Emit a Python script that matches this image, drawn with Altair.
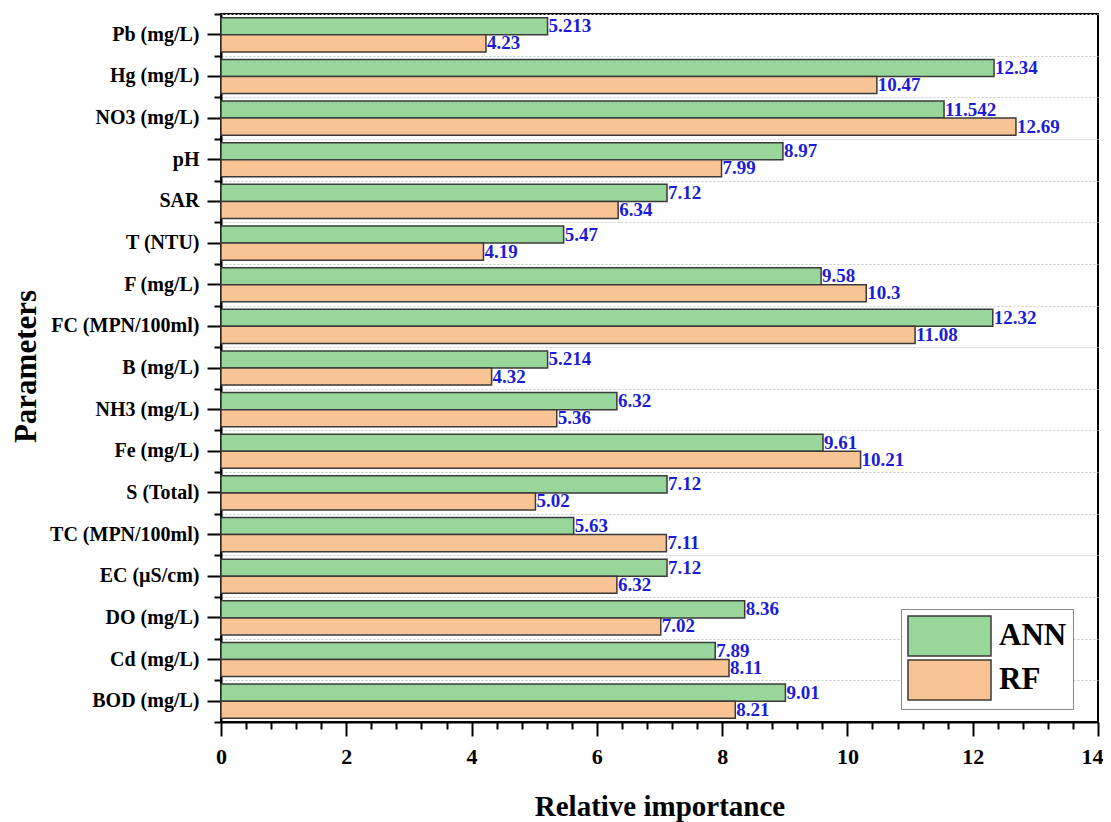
import altair as alt
import pandas as pd

params = ["Pb (mg/L)", "Hg (mg/L)", "NO3 (mg/L)", "pH", "SAR", "T (NTU)", "F (mg/L)",
          "FC (MPN/100ml)", "B (mg/L)", "NH3 (mg/L)", "Fe (mg/L)", "S (Total)",
          "TC (MPN/100ml)", "EC (µS/cm)", "DO (mg/L)", "Cd (mg/L)", "BOD (mg/L)"]
ann = [5.213, 12.34, 11.542, 8.97, 7.12, 5.47, 9.58, 12.32, 5.214, 6.32,
       9.61, 7.12, 5.63, 7.12, 8.36, 7.89, 9.01]
rf = [4.23, 10.47, 12.69, 7.99, 6.34, 4.19, 10.3, 11.08, 4.32, 5.36,
      10.21, 5.02, 7.11, 6.32, 7.02, 8.11, 8.21]
models = ["ANN", "RF"]
colors = ["#99d69b", "#f9c494"]
x_major = [0, 2, 4, 6, 8, 10, 12, 14]
x_minor = [0.4, 0.8, 1.2, 1.6, 2.4, 2.8, 3.2, 3.6, 4.4, 4.8, 5.2, 5.6, 6.4, 6.8, 7.2, 7.6,
           8.4, 8.8, 9.2, 9.6, 10.4, 10.8, 11.2, 11.6, 12.4, 12.8, 13.2, 13.6]

rows = []
for p, a, r in zip(params, ann, rf):
    rows.append({"param": p, "model": "ANN", "value": a, "label": str(a)})
    rows.append({"param": p, "model": "RF", "value": r, "label": str(r)})
df = pd.DataFrame(rows)

FONT = "Liberation Serif"

base = alt.Chart(df)

bars = base.mark_bar(stroke="#3a3a3a", strokeWidth=1.5).encode(
    y=alt.Y("param:N", sort=params,
            scale=alt.Scale(paddingInner=0, paddingOuter=0),
            axis=alt.Axis(title="Parameters", labelFont=FONT, labelFontSize=20,
                          labelFontWeight="bold", labelColor="black",
                          titleFont=FONT, titleFontSize=31, titleFontWeight="bold",
                          titleColor="black", titleX=-195, titleY=352, titleAngle=-90,
                          titleBaseline="middle", titleAlign="center",
                          tickSize=14, tickWidth=2, tickColor="black",
                          domainColor="black", domainWidth=2, grid=False,
                          labelPadding=8)),
    yOffset=alt.YOffset("model:N", sort=models,
                        scale=alt.Scale(paddingOuter=0.22, paddingInner=0)),
    x=alt.X("value:Q", scale=alt.Scale(domain=[0, 14], nice=False),
            axis=alt.Axis(title="Relative importance", values=x_major, format="d",
                          labelFont=FONT, labelFontSize=22, labelFontWeight="bold",
                          labelColor="black", labelFlush=False,
                          labelOffset={"condition": {"test": "datum.value === 14",
                                                     "value": -6}, "value": 0},
                          titleFont=FONT, titleFontSize=29,
                          titleFontWeight="bold", titleColor="black",
                          titleY=93, titleBaseline="alphabetic",
                          tickSize=14, tickWidth=2, tickColor="black",
                          domainColor="black", domainWidth=2, grid=False,
                          labelPadding=10)),
    color=alt.Color("model:N", scale=alt.Scale(domain=models, range=colors),
                    legend=alt.Legend(orient="none", legendX=680, legendY=595,
                                      title=None,
                                      symbolType="M-1,-1L3.15,-1L3.15,1L-1,1Z",
                                      symbolSize=1600, symbolStrokeColor="#3a3a3a",
                                      symbolStrokeWidth=1.5, symbolOpacity=1,
                                      labelFont=FONT, labelFontSize=31,
                                      labelFontWeight="bold", labelColor="black",
                                      labelOffset=50, rowPadding=-2, padding=6,
                                      strokeColor="#888888", fillColor="white")),
)

text = base.mark_text(align="left", baseline="middle", dx=1, font=FONT,
                      fontWeight="bold", fontSize=19, color="#1c1cd6").encode(
    y=alt.Y("param:N", sort=params,
            axis=alt.Axis(orient="left", title=None, labels=False, tickBand="extent",
                          tickSize=7, tickWidth=2, tickColor="black", domain=False,
                          grid=True, gridDash=[2, 2], gridColor="#c8c8c8",
                          gridWidth=1)),
    yOffset=alt.YOffset("model:N", sort=models),
    x=alt.X("value:Q",
            axis=alt.Axis(orient="bottom", title=None, labels=False, values=x_minor,
                          tickSize=7, tickWidth=2, tickColor="black", domain=False,
                          grid=False)),
    text="label:N",
)

chart = alt.layer(bars, text).resolve_axis(x="independent", y="independent").properties(
    width=877, height=708,
    autosize=alt.AutoSizeParams(type="none"),
    padding={"left": 213, "top": 6, "right": 5, "bottom": 100},
).configure_view(stroke="black", strokeWidth=2)

chart.save("out.html", embed_options={"renderer": "svg", "actions": False})
